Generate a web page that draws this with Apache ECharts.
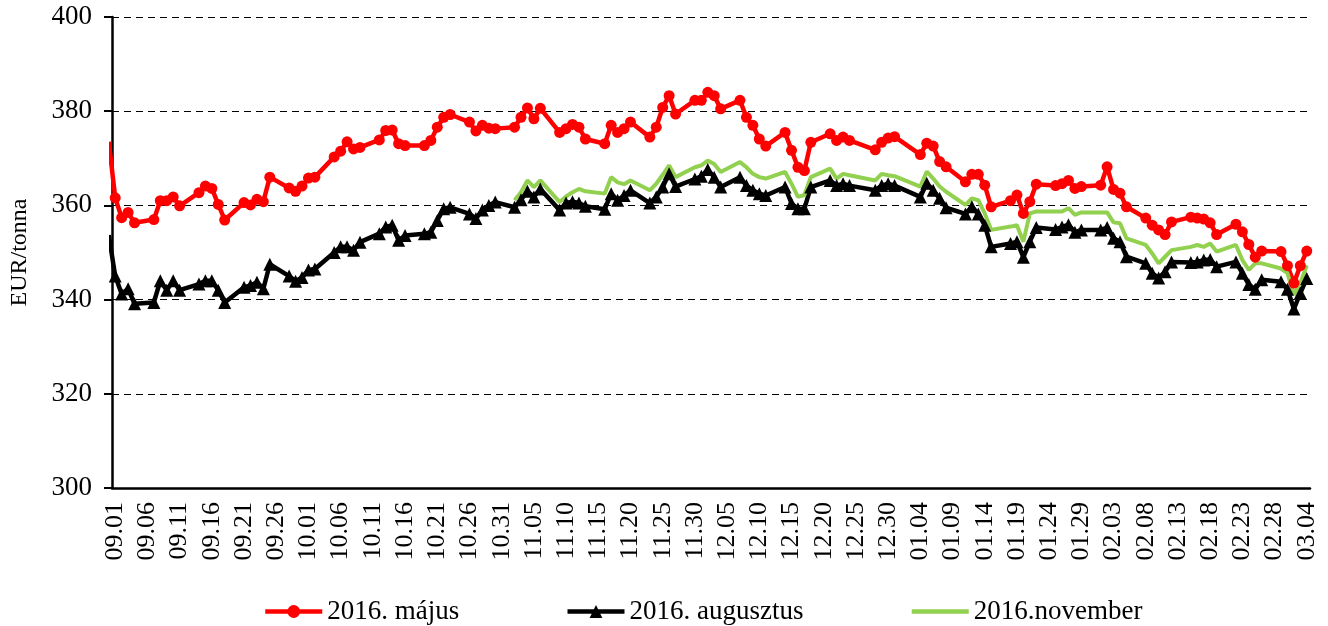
<!DOCTYPE html>
<html lang="hu">
<head>
<meta charset="UTF-8">
<title>EUR/tonna</title>
<script src="https://cdn.jsdelivr.net/npm/echarts@6/dist/echarts.min.js"></script>
<style>
  html, body { margin: 0; padding: 0; background: #fff; }
  #chart { width: 1328px; height: 626px; }
</style>
</head>
<body>
<div id="chart"></div>
<script>
// trading-day values, one per weekday from 08.31 (Mon) to 03.04; null = holiday
const majus = [
  373.5,
  // szept
  361.6, 357.4, 358.5, 356.3, 357.0, 361.0, 361.0, 361.8, 359.9, 362.7, 364.1,
  363.6, 360.2, 356.9, 360.6, 360.1, 361.3, 360.8, 366.0, 363.7, 363.0, 364.1,
  // okt
  365.8, 366.0, 370.3, 371.5, 373.5, 372.0, 372.3, 373.9, 375.9, 376.0, 373.1,
  372.7, 372.7, 373.8, 376.6, 378.7, 379.3, 377.7, 375.8, 377.0, 376.4, 376.3,
  // nov
  376.6, 378.7, 380.7, 378.4, 380.6, 375.5, 376.3, 377.2, 376.6, 374.1, 373.1,
  377.0, 375.5, 376.3, 377.7, 374.5, 376.6, 380.8, 383.3, 379.4, 382.3,
  // dec
  382.3, 384.0, 383.3, 380.5, 382.3, 378.7, 377.0, 374.1, 372.6, 375.5, 371.7,
  368.1, 367.4, 373.4, 375.2, 373.8, 374.5, 373.8, null, 371.8, 373.4, 374.3, 374.6,
  // jan
  null, 370.8, 373.2, 372.6, 369.3, 368.2, 365.0, 366.6, 366.6, 364.3, 359.7,
  361.0, 362.2, 358.3, 360.8, 364.5, 364.2, 364.6, 365.3, 363.6, 364.0,
  // feb
  364.3, 368.2, 363.4, 362.6, 359.7, 357.3, 355.8, 354.8, 353.8, 356.5, 357.5,
  357.3, 357.1, 356.3, 353.8, 356.0, 354.4, 351.7, 349.0, 350.3, 350.2,
  // márc
  347.2, 343.5, 347.2, 350.3
];

const augusztus = [
  353.7,
  // szept
  345.0, 341.2, 342.3, 339.1, 339.4, 344.0, 342.0, 344.0, 342.0, 343.3, 344.0,
  344.0, 342.0, 339.4, 342.6, 343.0, 343.7, 342.3, 347.5, 345.0, 343.9, 344.7,
  // okt
  346.3, 346.5, 350.0, 351.2, 351.2, 350.5, 352.2, 354.0, 355.4, 355.8, 352.6,
  353.6, 354.0, 354.3, 356.8, 359.3, 359.6, 358.2, 357.2, 359.0, 360.0, 360.7,
  // nov
  359.6, 361.2, 363.0, 361.8, 363.5, 359.0, 360.5, 360.8, 360.5, 359.8, 359.2,
  362.5, 361.1, 362.1, 363.2, 360.5, 361.8, 363.9, 366.7, 364.0, 365.6,
  // dec
  366.2, 367.6, 366.0, 363.9, 366.0, 364.2, 363.2, 362.5, 362.1, 363.9, 360.4,
  359.3, 359.3, 363.9, 365.3, 364.2, 364.6, 364.2, null, 363.2, 364.2, 364.6, 364.2,
  // jan
  null, 361.8, 364.7, 363.2, 361.5, 359.5, 358.2, 359.7, 358.2, 355.8, 351.2,
  351.9, 352.3, 349.0, 352.3, 355.3, 354.9, 355.4, 355.9, 354.3, 354.8,
  // feb
  354.8, 355.3, 353.0, 352.3, 349.1, 347.7, 345.6, 344.6, 345.9, 348.0, 347.9,
  348.0, 348.4, 348.5, 347.0, 348.0, 345.6, 343.2, 342.2, 344.2, 343.8,
  // márc
  342.2, 338.0, 341.4, 344.5
];

// november contract starts on 11.02
const novemberFrom = '11.02';
const november = [
  // nov
  361.1, 362.8, 365.3, 363.9, 365.3, 360.7, 361.9, 362.8, 363.5, 363.0, 362.5,
  366.0, 364.9, 364.5, 365.3, 363.2, 364.6, 366.5, 368.5, 366.0, 368.1,
  // dec
  368.5, 369.5, 368.8, 367.1, 369.2, 368.1, 366.7, 366.0, 365.7, 367.1, 364.6,
  361.8, 362.2, 366.0, 367.8, 365.7, 366.7, 366.4, null, 365.3, 366.7, 366.4, 366.2,
  // jan
  null, 364.0, 367.2, 365.7, 364.0, 362.9, 360.1, 361.5, 361.1, 358.3, 354.8,
  355.5, 355.8, 352.3, 358.3, 358.7, 358.7, 358.7, 359.4, 358.0, 358.5,
  // feb
  358.5, 358.5, 356.4, 356.2, 353.0, 351.6, 349.8, 347.7, 349.1, 350.5, 351.2,
  351.6, 351.2, 351.9, 350.2, 351.6, 348.4, 346.3, 347.7, 347.7, 346.6,
  // márc
  345.6, 341.0, 343.5, 347.3
];

const seriesNames = ['2016. május', '2016. augusztus', '2016.november'];

// calendar days 08.31 .. 03.04 (axis shows from 09.01)
const days = [];
const tradeIdx = [];
const pad = n => (n < 10 ? '0' : '') + n;
for (let t = Date.UTC(2015, 7, 31); t <= Date.UTC(2016, 2, 4); t += 86400000) {
  const d = new Date(t);
  const wd = d.getUTCDay();
  if (wd !== 0 && wd !== 6) tradeIdx.push(days.length);
  days.push(pad(d.getUTCMonth() + 1) + '.' + pad(d.getUTCDate()));
}

function toDaily(values, offset) {
  const out = days.map(() => null);
  values.forEach((v, k) => { out[tradeIdx[k + offset]] = v; });
  return out;
}

const novOffset = tradeIdx.indexOf(days.indexOf(novemberFrom));

const serif = '"Liberation Serif", "Times New Roman", serif';
const chart = echarts.init(document.getElementById('chart'));

chart.setOption({
  animation: false,
  backgroundColor: '#fff',
  grid: { left: 108, right: 18, top: 17, bottom: 138 },
  legend: {
    top: 593,
    left: 258,
    itemGap: 106,
    itemWidth: 57,
    itemHeight: 16,
    lineStyle: { width: 4.5 },
    textStyle: { fontFamily: serif, fontSize: 27, color: '#000' },
    data: [
      seriesNames[0],
      seriesNames[1],
      { name: seriesNames[2], itemStyle: { opacity: 0 } }
    ]
  },
  xAxis: {
    type: 'category',
    data: days,
    min: 1,
    boundaryGap: true,
    axisLine: { lineStyle: { color: '#000', width: 2.5 } },
    axisTick: {
      length: 6,
      lineStyle: { color: '#000', width: 2 },
      interval: idx => (idx - 1) % 5 === 0
    },
    axisLabel: {
      rotate: 90,
      margin: 14,
      fontFamily: serif,
      fontSize: 26,
      color: '#000',
      interval: idx => (idx - 1) % 5 === 0
    },
    splitLine: { show: false }
  },
  yAxis: {
    type: 'value',
    min: 300,
    max: 400,
    interval: 20,
    name: 'EUR/tonna',
    nameLocation: 'middle',
    nameRotate: 90,
    nameGap: 80,
    nameTextStyle: { fontFamily: serif, fontSize: 24, color: '#000' },
    axisLine: { show: true, lineStyle: { color: '#000', width: 2.5 } },
    axisTick: { show: true, length: 8, lineStyle: { color: '#000', width: 2 } },
    axisLabel: { margin: 20, fontFamily: serif, fontSize: 27, color: '#000' },
    splitLine: { lineStyle: { color: '#000', width: 1, type: [7, 5] } }
  },
  series: [
    {
      name: seriesNames[0],
      type: 'line',
      data: toDaily(majus, 0),
      connectNulls: true,
      clip: true,
      showAllSymbol: true,
      symbol: 'circle',
      symbolSize: 11,
      color: '#ff0000',
      lineStyle: { width: 4.5, color: '#ff0000' },
      itemStyle: { color: '#ff0000' }
    },
    {
      name: seriesNames[1],
      type: 'line',
      data: toDaily(augusztus, 0),
      connectNulls: true,
      clip: true,
      showAllSymbol: true,
      symbol: 'triangle',
      symbolSize: 13,
      color: '#000',
      lineStyle: { width: 4.5, color: '#000' },
      itemStyle: { color: '#000' }
    },
    {
      name: seriesNames[2],
      type: 'line',
      data: toDaily(november, novOffset),
      connectNulls: true,
      clip: true,
      showSymbol: false,
      symbol: 'none',
      color: '#92d050',
      lineStyle: { width: 4, color: '#92d050' }
    }
  ]
});
</script>
</body>
</html>
